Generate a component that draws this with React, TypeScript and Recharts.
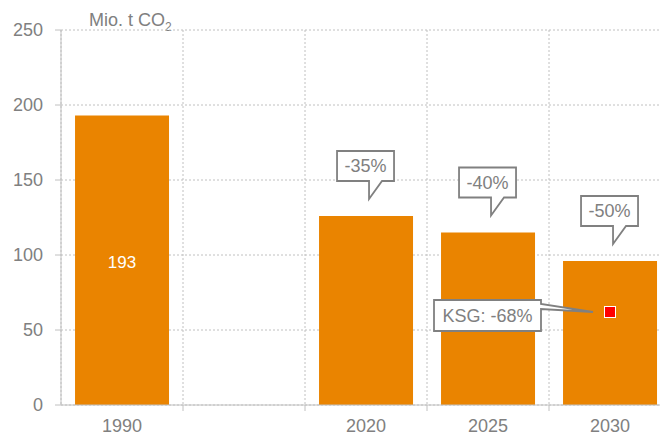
import React from "react";
import {
  ComposedChart,
  Bar,
  XAxis,
  YAxis,
  CartesianGrid,
  LabelList,
  ReferenceDot,
} from "recharts";

const YEARS = ["1990", "", "2020", "2025", "2030"];
const EMISSIONS = [193, null, 126, 115, 96];
const CHANGES = [null, null, "-35%", "-40%", "-50%"];
const VALUE_LABEL_YEARS = ["1990"];
const Y_TICKS = [0, 50, 100, 150, 200, 250];

const KSG_YEAR = "2030";
const KSG_VALUE = 62;
const KSG_LABEL = "KSG: -68%";

const ORANGE = "#EA8400";
const GREY = "#808080";
const LINE = "#C0C0C0";
const FONT = "'Liberation Sans', Arial, sans-serif";

const data = YEARS.map((year, i) => ({
  year,
  emissions: EMISSIONS[i],
  change: CHANGES[i],
}));

// x-axis tick: label in the band centre, tick mark on the band's left edge
const XTick = (props: any) => {
  const { x, y, payload, width } = props;
  const band = (width ?? 610) / YEARS.length;
  const left = x - band / 2;
  return (
    <g>
      {payload.index > 0 && (
        <line x1={left} x2={left} y1={y - 6} y2={y} stroke={LINE} />
      )}
      <text x={x} y={y + 21} textAnchor="middle" fill={GREY} fontSize={18} fontFamily={FONT}>
        {payload.value}
      </text>
    </g>
  );
};

const Callout = (props: any) => {
  const { x, y, width, value } = props;
  if (!value) return null;
  const cx = x + width / 2;
  const tipX = cx + 3;
  const tipY = y - 17;
  const bottom = tipY - 18;
  const top = bottom - 30;
  const l = cx - 29;
  const r = cx + 28;
  const d = `M${l},${top} H${r} V${bottom} H${tipX + 13} L${tipX},${tipY} L${tipX},${bottom} H${l} Z`;
  return (
    <g>
      <path d={d} fill="#fff" stroke={GREY} strokeWidth={1.8} />
      <text x={(l + r) / 2} y={top + 21} textAnchor="middle" fill={GREY} fontSize={18} fontFamily={FONT}>
        {value}
      </text>
    </g>
  );
};

const ValueLabel = (props: any) => {
  const { x, y, width, height, value, index } = props;
  if (!VALUE_LABEL_YEARS.includes(YEARS[index])) return null;
  return (
    <text x={x + width / 2} y={y + height / 2 + 8} textAnchor="middle" fill="#fff" fontSize={17} fontFamily={FONT}>
      {value}
    </text>
  );
};

const KsgMarker = (props: any) => {
  const { cx, cy } = props;
  const right = cx - 69;
  const left = right - 107;
  const top = cy - 12;
  const bottom = top + 31;
  const d = `M${left},${top} H${right} V${top + 4} L${cx - 17},${cy} L${right},${top + 9} V${bottom} H${left} Z`;
  return (
    <g>
      <path d={d} fill="#fff" stroke={GREY} strokeWidth={1.8} />
      <text x={(left + right) / 2} y={top + 22} textAnchor="middle" fill={GREY} fontSize={18} fontFamily={FONT}>
        {KSG_LABEL}
      </text>
      <rect x={cx - 5.5} y={cy - 5.5} width={11} height={11} fill="#FF0000" stroke="#fff" strokeWidth={1} />
    </g>
  );
};

export default function App() {
  return (
    <div
      style={{
        position: "fixed",
        left: 0,
        top: 0,
        width: 660,
        height: 436,
        overflow: "hidden",
        background: "#fff",
        fontFamily: FONT,
      }}
    >
      <div
        style={{
          position: "absolute",
          left: 89,
          top: 11,
          fontSize: 18,
          lineHeight: "18px",
          color: GREY,
          whiteSpace: "nowrap",
        }}
      >
        Mio. t CO
        <span style={{ fontSize: 12, position: "relative", top: 5 }}>2</span>
      </div>
      <ComposedChart
        width={680}
        height={436}
        data={data}
        margin={{ top: 30, right: 9, bottom: 0, left: 0 }}
        barCategoryGap="11.5%"
      >
        <CartesianGrid
          stroke={LINE}
          strokeDasharray="2 2"
          verticalCoordinatesGenerator={({ offset }: any) =>
            YEARS.map((_, i) => offset.left + (offset.width / YEARS.length) * i).concat(
              offset.left + offset.width
            )
          }
        />
        <XAxis
          dataKey="year"
          height={31}
          tickSize={6}
          tickMargin={0}
          tickLine={false}
          axisLine={{ stroke: LINE }}
          tick={<XTick />}
          interval={0}
        />
        <YAxis
          width={61}
          domain={[0, 250]}
          ticks={Y_TICKS}
          tickSize={6}
          tickMargin={12}
          axisLine={{ stroke: LINE }}
          tickLine={{ stroke: LINE }}
          tick={{ fill: GREY, fontSize: 18, fontFamily: FONT }}
        />
        <Bar dataKey="emissions" fill={ORANGE} isAnimationActive={false}>
          <LabelList dataKey="emissions" content={<ValueLabel />} />
          <LabelList dataKey="change" content={<Callout />} />
        </Bar>
        <ReferenceDot x={KSG_YEAR} y={KSG_VALUE} shape={<KsgMarker />} />
      </ComposedChart>
    </div>
  );
}
